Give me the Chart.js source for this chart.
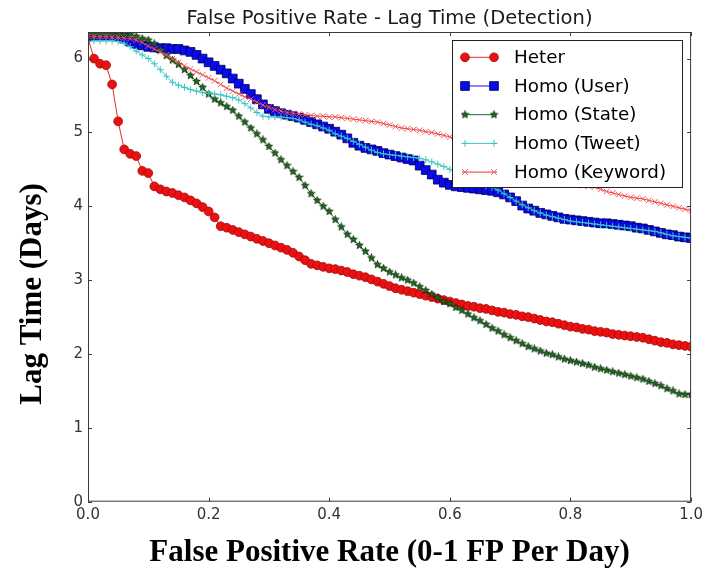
<!DOCTYPE html>
<html><head><meta charset="utf-8">
<script src="https://cdn.jsdelivr.net/npm/chart.js@4"></script>
<style>html,body{margin:0;padding:0;background:#fff;}</style>
</head><body>
<canvas id="c" width="707" height="579"></canvas>
<script>
// ---------- data ----------
const chartTitle = 'False Positive Rate - Lag Time (Detection)';
const xTitle = 'False Positive Rate (0-1 FP Per Day)';
const yTitle = 'Lag Time (Days)';
const seriesNames = ['Heter', 'Homo (User)', 'Homo (State)', 'Homo (Tweet)', 'Homo (Keyword)'];
const xTickLabels = ['0.0', '0.2', '0.4', '0.6', '0.8', '1.0'];
const yTickLabels = ['0', '1', '2', '3', '4', '5', '6'];

const fpRate = [
  0.00,0.01,0.02,0.03,0.04,0.05,0.06,0.07,0.08,0.09,
  0.10,0.11,0.12,0.13,0.14,0.15,0.16,0.17,0.18,0.19,
  0.20,0.21,0.22,0.23,0.24,0.25,0.26,0.27,0.28,0.29,
  0.30,0.31,0.32,0.33,0.34,0.35,0.36,0.37,0.38,0.39,
  0.40,0.41,0.42,0.43,0.44,0.45,0.46,0.47,0.48,0.49,
  0.50,0.51,0.52,0.53,0.54,0.55,0.56,0.57,0.58,0.59,
  0.60,0.61,0.62,0.63,0.64,0.65,0.66,0.67,0.68,0.69,
  0.70,0.71,0.72,0.73,0.74,0.75,0.76,0.77,0.78,0.79,
  0.80,0.81,0.82,0.83,0.84,0.85,0.86,0.87,0.88,0.89,
  0.90,0.91,0.92,0.93,0.94,0.95,0.96,0.97,0.98,0.99,
  1.00];

const heter = [
  6.28,6.00,5.93,5.91,5.65,5.15,4.77,4.71,4.68,4.48,
  4.45,4.27,4.23,4.20,4.18,4.15,4.12,4.08,4.04,3.99,
  3.93,3.85,3.73,3.71,3.68,3.65,3.62,3.59,3.56,3.53,
  3.50,3.47,3.44,3.41,3.37,3.32,3.27,3.22,3.20,3.18,
  3.16,3.15,3.13,3.11,3.08,3.06,3.04,3.01,2.98,2.95,
  2.92,2.89,2.87,2.85,2.83,2.81,2.79,2.77,2.75,2.73,
  2.71,2.69,2.67,2.65,2.64,2.62,2.61,2.59,2.57,2.56,
  2.54,2.53,2.51,2.50,2.48,2.46,2.44,2.43,2.41,2.39,
  2.37,2.36,2.34,2.33,2.31,2.30,2.29,2.27,2.26,2.25,
  2.24,2.23,2.22,2.20,2.18,2.16,2.15,2.13,2.12,2.11,
  2.10];

const homoUser = [
  6.31,6.31,6.31,6.31,6.31,6.30,6.27,6.23,6.20,6.18,
  6.16,6.15,6.14,6.14,6.13,6.13,6.11,6.09,6.05,6.00,
  5.95,5.90,5.85,5.80,5.73,5.66,5.59,5.52,5.45,5.38,
  5.32,5.29,5.26,5.24,5.22,5.20,5.17,5.14,5.11,5.08,
  5.05,5.01,4.97,4.92,4.86,4.82,4.79,4.77,4.75,4.72,
  4.70,4.68,4.66,4.64,4.62,4.55,4.49,4.43,4.36,4.32,
  4.29,4.27,4.26,4.25,4.24,4.23,4.22,4.21,4.19,4.16,
  4.12,4.07,4.01,3.97,3.94,3.91,3.89,3.87,3.85,3.83,
  3.82,3.81,3.80,3.79,3.78,3.77,3.77,3.76,3.75,3.74,
  3.73,3.71,3.70,3.68,3.66,3.64,3.62,3.61,3.59,3.58,
  3.57];

const homoState = [
  6.33,6.33,6.33,6.33,6.33,6.33,6.33,6.33,6.30,6.27,
  6.25,6.20,6.12,6.04,5.98,5.92,5.85,5.77,5.69,5.61,
  5.52,5.45,5.40,5.35,5.30,5.22,5.14,5.06,4.98,4.90,
  4.81,4.72,4.63,4.55,4.47,4.39,4.28,4.17,4.08,4.00,
  3.93,3.82,3.72,3.62,3.55,3.47,3.39,3.30,3.21,3.16,
  3.11,3.07,3.03,3.00,2.96,2.91,2.86,2.81,2.76,2.71,
  2.68,2.63,2.59,2.54,2.49,2.45,2.40,2.35,2.31,2.26,
  2.22,2.18,2.14,2.10,2.07,2.04,2.01,1.99,1.96,1.93,
  1.91,1.89,1.87,1.85,1.82,1.80,1.78,1.76,1.74,1.72,
  1.70,1.68,1.66,1.63,1.60,1.57,1.53,1.50,1.46,1.45,
  1.45];

const homoTweet = [
  6.23,6.24,6.24,6.24,6.24,6.23,6.21,6.16,6.10,6.05,
  6.00,5.93,5.85,5.76,5.68,5.64,5.61,5.58,5.56,5.54,
  5.53,5.52,5.51,5.49,5.47,5.44,5.39,5.33,5.27,5.22,
  5.21,5.21,5.21,5.20,5.19,5.17,5.14,5.11,5.09,5.06,
  5.03,4.98,4.95,4.92,4.88,4.84,4.80,4.76,4.73,4.71,
  4.70,4.69,4.68,4.67,4.66,4.65,4.63,4.60,4.57,4.54,
  4.50,4.45,4.40,4.36,4.33,4.30,4.28,4.26,4.22,4.17,
  4.12,4.07,4.02,3.98,3.94,3.91,3.88,3.86,3.84,3.82,
  3.80,3.79,3.78,3.77,3.76,3.75,3.74,3.73,3.72,3.71,
  3.70,3.69,3.68,3.67,3.66,3.64,3.62,3.60,3.59,3.58,
  3.57];

const homoKeyword = [
  6.30,6.30,6.30,6.30,6.29,6.29,6.28,6.27,6.25,6.22,
  6.17,6.13,6.09,6.05,6.00,5.95,5.90,5.86,5.82,5.78,
  5.74,5.70,5.65,5.60,5.56,5.52,5.48,5.45,5.41,5.37,
  5.34,5.31,5.29,5.27,5.26,5.25,5.24,5.23,5.22,5.22,
  5.21,5.21,5.20,5.19,5.18,5.17,5.16,5.15,5.14,5.12,
  5.10,5.08,5.06,5.05,5.04,5.03,5.01,5.00,4.98,4.96,
  4.94,4.91,4.88,4.85,4.82,4.79,4.76,4.73,4.70,4.67,
  4.63,4.60,4.56,4.52,4.48,4.44,4.40,4.36,4.33,4.31,
  4.30,4.29,4.28,4.27,4.26,4.23,4.20,4.18,4.16,4.14,
  4.12,4.11,4.10,4.08,4.06,4.04,4.02,4.00,3.98,3.96,
  3.94];

// ---------- styling ----------
function makeStar(size, fill, stroke) {
  const cv = document.createElement('canvas');
  cv.width = size; cv.height = size;
  const c = cv.getContext('2d');
  const cx = size / 2, cy = size / 2, R = size / 2 - 0.5, r = R * 0.45;
  c.beginPath();
  for (let i = 0; i < 10; i++) {
    const a = -Math.PI / 2 + i * Math.PI / 5;
    const rr = i % 2 === 0 ? R : r;
    c.lineTo(cx + rr * Math.cos(a), cy + rr * Math.sin(a));
  }
  c.closePath();
  c.fillStyle = fill; c.fill();
  c.lineWidth = 0.7; c.strokeStyle = stroke; c.stroke();
  return cv;
}
const starImg = makeStar(9, '#1d6a1d', '#0a250a');

function pts(ys) { return fpRate.map((x, i) => ({ x: x, y: ys[i] })); }

const datasets = [
  { label: seriesNames[0], data: pts(heter), borderColor: '#e22a2a', borderWidth: 1,
    pointStyle: 'circle', pointRadius: 4.4, pointBackgroundColor: '#ee1010',
    pointBorderColor: '#9a0c0c', pointBorderWidth: 0.8, order: 5 },
  { label: seriesNames[1], data: pts(homoUser), borderColor: '#1515e0', borderWidth: 1,
    pointStyle: 'rect', pointRadius: 6.2, pointBackgroundColor: '#0a0aee',
    pointBorderColor: '#00005a', pointBorderWidth: 0.8, order: 4 },
  { label: seriesNames[2], data: pts(homoState), borderColor: '#1d6b1d', borderWidth: 1,
    pointStyle: starImg, pointRadius: 4.5, pointBackgroundColor: '#1d6a1d',
    pointBorderColor: '#0a250a', pointBorderWidth: 0.7, order: 3 },
  { label: seriesNames[3], data: pts(homoTweet), borderColor: '#3cc6c6', borderWidth: 1,
    pointStyle: 'cross', pointRadius: 3.5, pointBackgroundColor: '#3cc6c6',
    pointBorderColor: '#3cc6c6', pointBorderWidth: 1, order: 2 },
  { label: seriesNames[4], data: pts(homoKeyword), borderColor: '#e63636', borderWidth: 1,
    pointStyle: 'crossRot', pointRadius: 4, pointBackgroundColor: '#f25a5a',
    pointBorderColor: '#f25a5a', pointBorderWidth: 1, order: 1 }
];

// frame + inward ticks on all four sides (matplotlib style)
const framePlugin = {
  id: 'frame',
  afterDatasetsDraw(chart) {
    const { ctx, chartArea: a, scales } = chart;
    ctx.save();
    ctx.strokeStyle = '#3a3a3a';
    ctx.lineWidth = 1;
    ctx.strokeRect(a.left + 0.5, a.top + 0.5, a.right - a.left - 1, a.bottom - a.top - 1);
    const L = 4;
    ctx.beginPath();
    scales.x.ticks.forEach(t => {
      const px = Math.round(scales.x.getPixelForValue(t.value)) + 0.5;
      ctx.moveTo(px, a.bottom); ctx.lineTo(px, a.bottom - L);
      ctx.moveTo(px, a.top); ctx.lineTo(px, a.top + L);
    });
    scales.y.ticks.forEach(t => {
      const py = Math.round(scales.y.getPixelForValue(t.value)) + 0.5;
      ctx.moveTo(a.left, py); ctx.lineTo(a.left + L, py);
      ctx.moveTo(a.right, py); ctx.lineTo(a.right - L, py);
    });
    ctx.stroke();
    ctx.restore();
  }
};

// boxed legend in the upper right of the plot (matplotlib style, two markers per sample)
const boxLegendPlugin = {
  id: 'boxLegend',
  afterDraw(chart) {
    const ctx = chart.ctx;
    const box = { left: 452, top: 40, right: 683, bottom: 188 };
    ctx.save();
    ctx.fillStyle = '#ffffff';
    ctx.fillRect(box.left, box.top, box.right - box.left, box.bottom - box.top);
    ctx.strokeStyle = '#222';
    ctx.lineWidth = 1;
    ctx.strokeRect(box.left + 0.5, box.top + 0.5, box.right - box.left - 1, box.bottom - box.top - 1);
    const rowY0 = 57.3, rowStep = 28.7;
    chart.data.datasets.forEach((ds, i) => {
      const y = rowY0 + i * rowStep;
      ctx.strokeStyle = ds.borderColor;
      ctx.lineWidth = ds.borderWidth;
      ctx.beginPath(); ctx.moveTo(462, y); ctx.lineTo(497, y); ctx.stroke();
      [465, 494].forEach(mx => {
        ctx.fillStyle = ds.pointBackgroundColor;
        ctx.strokeStyle = ds.pointBorderColor;
        ctx.lineWidth = ds.pointBorderWidth;
        Chart.helpers.drawPoint(ctx, { pointStyle: ds.pointStyle, radius: ds.pointRadius,
          rotation: 0, borderWidth: ds.pointBorderWidth }, mx, y);
      });
      ctx.fillStyle = '#000';
      ctx.font = '18.3px "DejaVu Sans"';
      ctx.textBaseline = 'middle';
      ctx.textAlign = 'left';
      ctx.fillText(ds.label, 514, y + 1);
    });
    ctx.restore();
  }
};

const NB = '\u00a0';
new Chart(document.getElementById('c'), {
  type: 'line',
  data: { datasets: datasets },
  options: {
    responsive: false,
    animation: false,
    devicePixelRatio: 1,
    layout: { padding: { left: 0, right: 13, top: 0, bottom: 0 } },
    plugins: {
      legend: { display: false },
      tooltip: { enabled: false },
      title: {
        display: true, text: chartTitle, fullSize: false,
        color: '#1a1a1a',
        font: { family: '"DejaVu Sans"', size: 19.5, weight: 'normal' },
        padding: { top: 7.2, bottom: 1.4 }
      }
    },
    elements: { line: { tension: 0 } },
    scales: {
      x: {
        type: 'linear', min: 0, max: 1,
        grid: { display: false, drawTicks: false },
        border: { display: false },
        ticks: {
          stepSize: 0.2, includeBounds: false, padding: 4,
          color: '#333', font: { family: '"DejaVu Sans"', size: 15 },
          callback: (v, i) => xTickLabels[i]
        },
        title: {
          display: true, text: xTitle, color: '#000',
          font: { family: '"Liberation Serif"', size: 31, weight: 'bold' },
          padding: { top: 0, bottom: 7 }
        },
        afterFit: s => { s.height = 77.3; }
      },
      y: {
        type: 'linear', min: 0, max: 6.36,
        grid: { display: false, drawTicks: false },
        border: { display: false },
        ticks: {
          stepSize: 1, includeBounds: false, padding: 5,
          color: '#333', font: { family: '"DejaVu Sans"', size: 15 },
          callback: (v, i) => yTickLabels[i]
        },
        title: {
          display: true, text: yTitle + NB.repeat(7), color: '#000',
          font: { family: '"Liberation Serif"', size: 31, weight: 'bold' },
          padding: { top: 14.4, bottom: 0 }
        },
        afterFit: s => { s.width = 88; }
      }
    }
  },
  plugins: [framePlugin, boxLegendPlugin]
});
</script>
</body></html>
